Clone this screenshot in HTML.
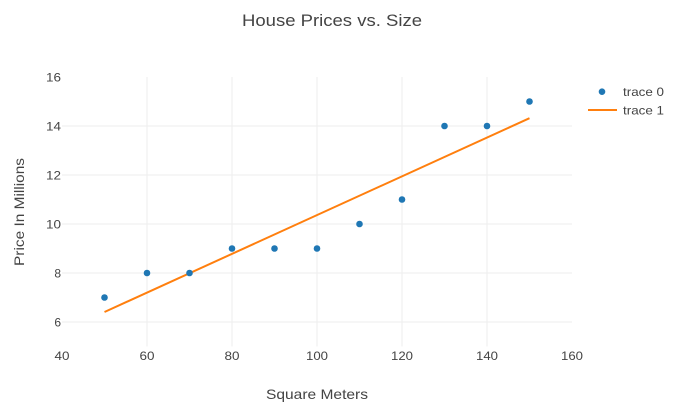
<!DOCTYPE html>
<html>
<head>
<meta charset="utf-8">
<style>
html,body{margin:0;padding:0;background:#fff;}
svg{display:block;}
text{font-family:"Liberation Sans",Arial,sans-serif;fill:#444;}
</style>
</head>
<body>
<svg width="676" height="417" viewBox="0 0 676 417" xmlns="http://www.w3.org/2000/svg">
<rect width="676" height="417" fill="#fff"/>
<!-- grid -->
<g stroke="#eeeeee" stroke-width="1">
<line x1="147" y1="77" x2="147" y2="346.5"/>
<line x1="232" y1="77" x2="232" y2="346.5"/>
<line x1="317" y1="77" x2="317" y2="346.5"/>
<line x1="402" y1="77" x2="402" y2="346.5"/>
<line x1="487" y1="77" x2="487" y2="346.5"/>
<line x1="62" y1="126" x2="572" y2="126"/>
<line x1="62" y1="175" x2="572" y2="175"/>
<line x1="62" y1="224" x2="572" y2="224"/>
<line x1="62" y1="273" x2="572" y2="273"/>
<line x1="62" y1="322" x2="572" y2="322"/>
</g>
<!-- regression line -->
<line x1="104.5" y1="312" x2="529.5" y2="118.2" stroke="#ff7f0e" stroke-width="2"/>
<!-- markers -->
<g fill="#1f77b4">
<circle cx="104.5" cy="297.5" r="3.3"/>
<circle cx="147" cy="273" r="3.3"/>
<circle cx="189.5" cy="273" r="3.3"/>
<circle cx="232" cy="248.5" r="3.3"/>
<circle cx="274.5" cy="248.5" r="3.3"/>
<circle cx="317" cy="248.5" r="3.3"/>
<circle cx="359.5" cy="224" r="3.3"/>
<circle cx="402" cy="199.5" r="3.3"/>
<circle cx="444.5" cy="126" r="3.3"/>
<circle cx="487" cy="126" r="3.3"/>
<circle cx="529.5" cy="101.5" r="3.3"/>
</g>
<!-- y ticks -->
<g font-size="12" text-anchor="end">
<text x="61" y="81.5" textLength="15" lengthAdjust="spacingAndGlyphs">16</text>
<text x="61" y="130.5" textLength="15" lengthAdjust="spacingAndGlyphs">14</text>
<text x="61" y="179.5" textLength="15" lengthAdjust="spacingAndGlyphs">12</text>
<text x="61" y="228.5" textLength="15" lengthAdjust="spacingAndGlyphs">10</text>
<text x="61" y="277.5">8</text>
<text x="61" y="326.5">6</text>
</g>
<!-- x ticks -->
<g font-size="12" text-anchor="middle">
<text x="62" y="360" textLength="15" lengthAdjust="spacingAndGlyphs">40</text>
<text x="147" y="360" textLength="15" lengthAdjust="spacingAndGlyphs">60</text>
<text x="232" y="360" textLength="15" lengthAdjust="spacingAndGlyphs">80</text>
<text x="317" y="360" textLength="22" lengthAdjust="spacingAndGlyphs">100</text>
<text x="402" y="360" textLength="22" lengthAdjust="spacingAndGlyphs">120</text>
<text x="487" y="360" textLength="22" lengthAdjust="spacingAndGlyphs">140</text>
<text x="572" y="360" textLength="22" lengthAdjust="spacingAndGlyphs">160</text>
</g>
<!-- titles -->
<text x="332" y="26" font-size="17" text-anchor="middle" textLength="180" lengthAdjust="spacingAndGlyphs">House Prices vs. Size</text>
<text x="317" y="399" font-size="14" text-anchor="middle" textLength="102" lengthAdjust="spacingAndGlyphs">Square Meters</text>
<text transform="translate(24,212) rotate(-90)" font-size="14" text-anchor="middle" textLength="108" lengthAdjust="spacingAndGlyphs">Price In Millions</text>
<!-- legend -->
<circle cx="602" cy="91.7" r="3.3" fill="#1f77b4"/>
<text x="623" y="96" font-size="12" textLength="41" lengthAdjust="spacingAndGlyphs">trace 0</text>
<line x1="588" y1="110" x2="617" y2="110" stroke="#ff7f0e" stroke-width="2"/>
<text x="623" y="114.3" font-size="12" textLength="41" lengthAdjust="spacingAndGlyphs">trace 1</text>
</svg>
</body>
</html>
